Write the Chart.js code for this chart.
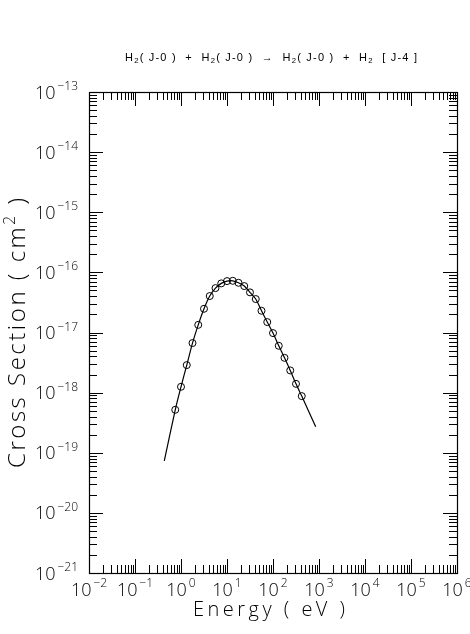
<!DOCTYPE html>
<html>
<head>
<meta charset="utf-8">
<script src="https://cdn.jsdelivr.net/npm/chart.js@4/dist/chart.umd.min.js"></script>
<style>
html,body{margin:0;padding:0;background:#fff;}
#wrap{width:470px;height:634px;}
</style>
</head>
<body>
<div id="wrap"><canvas id="c" width="470" height="634"></canvas></div>
<script>
// ---- data ----
const energies = [0.750, 1.00, 1.334, 1.778, 2.371, 3.162, 4.217, 5.623, 7.499, 10.0, 13.34, 17.78,
                  23.71, 31.62, 42.17, 56.23, 74.99, 100, 133.4, 177.8, 237.1, 316.2, 421.7];
const crossSections = [5.18e-19, 1.25e-18, 2.87e-18, 6.67e-18, 1.34e-17, 2.48e-17, 4.04e-17, 5.48e-17,
                       6.56e-17, 7.16e-17, 7.24e-17, 6.71e-17, 5.92e-17, 4.65e-17, 3.60e-17, 2.30e-17,
                       1.49e-17, 9.77e-18, 6.01e-18, 3.79e-18, 2.34e-18, 1.40e-18, 8.75e-19];
const curveStart = [0.433, 7.33e-20];
const curveEnd = [848, 2.70e-19];
const xDecades = [-2, -1, 0, 1, 2, 3, 4, 5, 6];
const yDecades = [-21, -20, -19, -18, -17, -16, -15, -14, -13];
const titleParts = [["H",1],["2",0.7,"sub"],["( J-0 )  +  H",1],["2",0.7,"sub"],["( J-0 )  \u2192  H",1],["2",0.7,"sub"],["( J-0 )  +  H",1],["2",0.7,"sub"],["  [ J-4 ]",1]];
const xTitle = "Energy ( eV )";
const yTitleParts = [["Cross Section ( cm",1],["2",0.65,"sup"],[" )",1]];

const FONT = '"Liberation Sans", "DejaVu Sans", sans-serif';
const TFONT = '"Open Sans", "Liberation Sans", sans-serif';

const curvePts = [{x: curveStart[0], y: curveStart[1]}]
  .concat(energies.map((e, i) => ({x: e, y: crossSections[i]})))
  .concat([{x: curveEnd[0], y: curveEnd[1]}]);
const markerPts = energies.map((e, i) => ({x: e, y: crossSections[i]}));

function fontStr(size, fam, weight) { return (weight || 'normal') + ' ' + size + 'px ' + fam; }
function partsWidth(ctx, parts, base, fam, weight) {
  let w = 0, n = 0;
  for (const p of parts) {
    ctx.font = fontStr(base * p[1], fam, weight);
    for (const ch of p[0]) { w += ctx.measureText(ch).width; n++; }
  }
  return {w, n};
}
function drawParts(ctx, parts, base, x, baseline, targetWidth, fam, weight) {
  fam = fam || FONT;
  const m = partsWidth(ctx, parts, base, fam, weight);
  const sp = targetWidth ? (targetWidth - m.w) / (m.n - 1) : 0;
  let cx = x - (m.w + sp * (m.n - 1)) / 2;
  for (const p of parts) {
    const size = base * p[1];
    ctx.font = fontStr(size, fam, weight);
    let dy = 0;
    if (p[2] === 'sub') dy = base * 0.2;
    if (p[2] === 'sup') dy = -base * 0.42;
    for (const ch of p[0]) {
      ctx.fillText(ch, cx, baseline + dy);
      cx += ctx.measureText(ch).width + sp;
    }
  }
}

const framePlugin = {
  id: 'frame',
  afterDraw(chart) {
    const ctx = chart.ctx;
    const xs = chart.scales.x, ys = chart.scales.y;
    const a = chart.chartArea;
    ctx.save();
    ctx.strokeStyle = '#000';
    ctx.fillStyle = '#000';
    ctx.lineWidth = 1.2;
    ctx.strokeRect(Math.round(a.left) + 0.5, Math.round(a.top) + 0.5, Math.round(a.right - a.left), Math.round(a.bottom - a.top));
    const MAJ = 14, MIN = 8;
    ctx.lineWidth = 1;
    ctx.beginPath();
    xDecades.forEach((d, i) => {
      const px = Math.round(xs.getPixelForValue(Math.pow(10, d))) + 0.5;
      ctx.moveTo(px, a.top); ctx.lineTo(px, a.top + MAJ);
      ctx.moveTo(px, a.bottom); ctx.lineTo(px, a.bottom - MAJ);
      if (i < xDecades.length - 1) {
        for (let m = 2; m <= 9; m++) {
          const q = Math.round(xs.getPixelForValue(m * Math.pow(10, d))) + 0.5;
          ctx.moveTo(q, a.top); ctx.lineTo(q, a.top + MIN);
          ctx.moveTo(q, a.bottom); ctx.lineTo(q, a.bottom - MIN);
        }
      }
    });
    yDecades.forEach((d, i) => {
      const py = Math.round(ys.getPixelForValue(Math.pow(10, d))) + 0.5;
      ctx.moveTo(a.left, py); ctx.lineTo(a.left + MAJ, py);
      ctx.moveTo(a.right, py); ctx.lineTo(a.right - MAJ, py);
      if (i < yDecades.length - 1) {
        for (let m = 2; m <= 9; m++) {
          const q = Math.round(ys.getPixelForValue(m * Math.pow(10, d))) + 0.5;
          ctx.moveTo(a.left, q); ctx.lineTo(a.left + MIN, q);
          ctx.moveTo(a.right, q); ctx.lineTo(a.right - MIN, q);
        }
      }
    });
    ctx.stroke();

    const B = 18, E = 12;
    const LF = TFONT, LW = 300;
    ctx.textBaseline = 'alphabetic';
    ctx.textAlign = 'left';
    xDecades.forEach(d => {
      const px = xs.getPixelForValue(Math.pow(10, d));
      ctx.font = fontStr(B, LF, LW);
      const w1 = ctx.measureText('10').width;
      ctx.font = fontStr(E, LF, LW);
      const ex = String(d).replace('-', '\u2212');
      const w2 = ctx.measureText(ex).width;
      const gap = 2;
      const x0 = px - (w1 + gap + w2) / 2;
      ctx.font = fontStr(B, LF, LW);
      ctx.fillText('10', x0, a.bottom + 23);
      ctx.font = fontStr(E, LF, LW);
      ctx.fillText(ex, x0 + w1 + gap, a.bottom + 14);
    });
    yDecades.forEach(d => {
      const py = ys.getPixelForValue(Math.pow(10, d));
      ctx.font = fontStr(E, LF, LW);
      const ex = String(d).replace('-', '\u2212');
      const w2 = ctx.measureText(ex).width;
      ctx.font = fontStr(B, LF, LW);
      const w1 = ctx.measureText('10').width;
      const right = a.left - 11;
      ctx.font = fontStr(E, LF, LW);
      ctx.fillText(ex, right - w2, py - 2);
      ctx.font = fontStr(B, LF, LW);
      ctx.fillText('10', right - w2 - 2 - w1, py + 6.5);
    });

    drawParts(ctx, titleParts, 11, 271, 61, 292);
    drawParts(ctx, [[xTitle, 1]], 20, 269, 616, 152, TFONT, 300);
    ctx.save();
    ctx.translate(25, 333);
    ctx.rotate(-Math.PI / 2);
    drawParts(ctx, yTitleParts, 24, 0, 0, 270, TFONT, 300);
    ctx.restore();
    ctx.restore();
  }
};

new Chart(document.getElementById('c'), {
  type: 'line',
  data: {
    datasets: [
      {
        data: curvePts,
        borderColor: '#000',
        borderWidth: 1.2,
        pointRadius: 0,
        tension: 0.25,
        fill: false
      },
      {
        data: markerPts,
        showLine: false,
        pointStyle: 'circle',
        pointRadius: 3.5,
        pointBorderColor: '#000',
        pointBackgroundColor: 'rgba(0,0,0,0)',
        pointBorderWidth: 1
      }
    ]
  },
  options: {
    responsive: false,
    animation: false,
    devicePixelRatio: 1,
    layout: { padding: { left: 89, right: 13, top: 92, bottom: 61 } },
    plugins: { legend: { display: false }, tooltip: { enabled: false } },
    scales: {
      x: { type: 'logarithmic', min: 0.01, max: 1e6, display: false },
      y: { type: 'logarithmic', min: 1e-21, max: 1e-13, display: false }
    }
  },
  plugins: [framePlugin]
});
</script>
</body>
</html>
